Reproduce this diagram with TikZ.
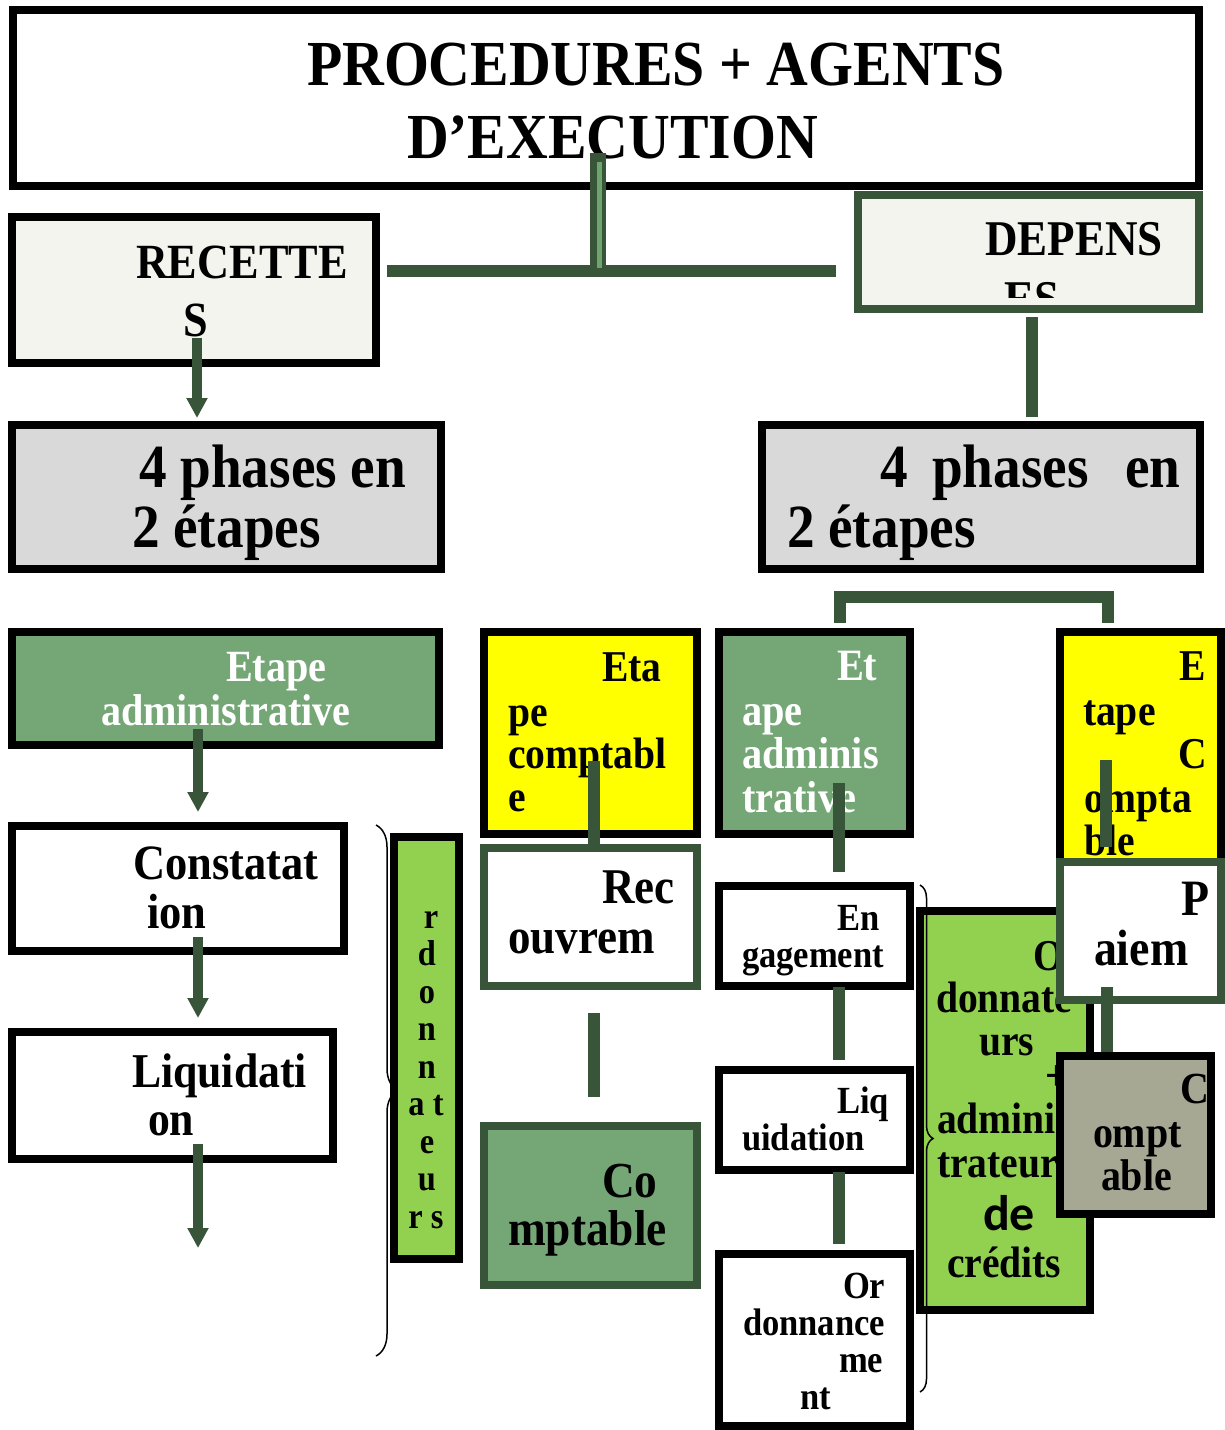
\documentclass[tikz,border=0pt]{standalone}
\usepackage{fontspec}
\newfontfamily\cf[FakeStretch=0.9]{Liberation Serif}
\newfontfamily\cbf{Carlito}
\usetikzlibrary{arrows.meta,fit,decorations.pathreplacing}
\definecolor{dkg}{RGB}{56,85,58}
\definecolor{ltg}{RGB}{110,165,110}
\definecolor{medg}{RGB}{117,167,118}
\definecolor{brg}{RGB}{146,208,80}
\definecolor{pale}{RGB}{243,244,238}
\definecolor{lgrey}{RGB}{217,217,217}
\definecolor{olive}{RGB}{166,168,148}
\definecolor{yel}{RGB}{255,255,0}
\newcommand\F[1]{\cf\bfseries\fontsize{#1pt}{#1pt}\selectfont}
\begin{document}
\begin{tikzpicture}[x=0.5pt,y=-0.5pt,
  box/.style={draw=black, line width=4pt, inner sep=0pt, outer sep=0pt},
  gbox/.style={draw=dkg, line width=4pt, inner sep=0pt, outer sep=0pt},
  txt/.style={anchor=base west, inner sep=0pt, outer sep=0pt},
  ctxt/.style={anchor=base, inner sep=0pt, outer sep=0pt},
  conn/.style={draw=dkg, line width=6.25pt},
  arr/.style={draw=dkg, line width=5pt, -{Triangle[length=10pt,width=10pt]}},
  brc/.style={draw=black, line width=0.75pt, decorate}]
\fill[white] (0,0) rectangle (1225,1430);
\useasboundingbox (0,0) rectangle (1225,1430);

% ---------- title ----------
\node[box, fill=white, fit={(13,10) (1199,186)}] (title) {};
\node[txt, font=\F{32.1}] (tt1) at (307,85) {PROCEDURES + AGENTS};
\node[txt, font=\F{32.1}] (tt2) at (407,158) {D’EXECUTION};

% top connectors
\coordinate (hL) at (387,271);
\coordinate (hR) at (836,271);
\draw[conn, line width=6pt] (hL) -- (hR);
\coordinate (vT) at (598,153);
\coordinate (vB) at (598,271);
\coordinate (vTi) at (599,162);
\coordinate (vBi) at (599,268);
\draw[draw=dkg, line width=8pt] (vT) -- (vB);
\draw[draw=ltg, line width=2.5pt] (vTi) -- (vBi);

% ---------- RECETTES ----------
\node[box, fill=pale, fit={(12,217) (376,363)}] (rec) {};
\node[txt, font=\F{24.6}] (rec1) at (136,278) {RECETTE};
\node[txt, font=\F{24.6}] (rec2) at (183,336) {S};
\coordinate (a0s) at (197,338);
\coordinate (a0e) at (197,418);
\draw[arr] (a0s) -- (a0e);

% ---------- DEPENSES ----------
\node[gbox, fill=pale, fit={(858,195) (1199,309)}] (dep) {};
\node[txt, font=\F{25}] (dep1) at (985,255) {DEPENS};
\begin{scope}
\clip (862,199) rectangle (1195,297);
\node[txt, font=\F{25}] (dep2) at (1004,315) {ES};
\end{scope}
\coordinate (d0s) at (1032,317);
\coordinate (d0e) at (1032,417);
\draw[conn] (d0s) -- (d0e);

% ---------- 4 phases ----------
\node[box, fill=lgrey, fit={(12,425) (441,569)}] (ph1) {};
\node[txt, font=\F{30.7}] (ph1a) at (139,487) {4 phases en};
\node[txt, font=\F{30.7}] (ph1b) at (132,547) {2 étapes};
\node[box, fill=lgrey, fit={(762,425) (1200,569)}] (ph2) {};
\node[txt, font=\F{30.7}] (ph2a) at (880,487) {4};
\node[txt, font=\F{30.7}] (ph2b) at (932,487) {phases};
\node[txt, font=\F{30.7}] (ph2c) at (1125,487) {en};
\node[txt, font=\F{30.7}] (ph2d) at (787,547) {2 étapes};

% bracket
\coordinate (k1) at (840,623);
\coordinate (k2) at (840,597);
\coordinate (k3) at (1108,597);
\coordinate (k4) at (1108,623);
\draw[conn] (k1) -- (k2) -- (k3) -- (k4);

% ---------- left column ----------
\node[box, fill=medg, fit={(12,632) (439,745)}] (ea1) {};
\node[txt, font=\F{22.3}, text=white] (ea1a) at (226,681) {Etape};
\node[txt, font=\F{22.3}, text=white] (ea1b) at (101,725) {administrative};
\coordinate (a1s) at (198,729);
\coordinate (a1e) at (198,812);
\draw[arr] (a1s) -- (a1e);

\node[box, fill=white, fit={(12,826) (344,951)}] (con) {};
\node[txt, font=\F{24.7}] (con1) at (133,879) {Constatat};
\node[txt, font=\F{24.7}] (con2) at (147,928) {ion};
\coordinate (a2s) at (198,937);
\coordinate (a2e) at (198,1018);
\draw[arr] (a2s) -- (a2e);

\node[box, fill=white, fit={(12,1032) (333,1159)}] (liq1) {};
\node[txt, font=\F{24.3}] (liq1a) at (132,1087) {Liquidati};
\node[txt, font=\F{24.3}] (liq1b) at (148,1135) {on};
\coordinate (a3s) at (198,1144);
\coordinate (a3e) at (198,1248);
\draw[arr] (a3s) -- (a3e);

% left brace
\coordinate (b1s) at (376,825);
\coordinate (b1e) at (376,1356);
\draw[brc, decoration={brace, amplitude=11pt}] (b1s) -- (b1e);

% ordonnateurs (left)
\node[box, fill=brg, fit={(394,837) (459,1259)}] (ord1) {};
\node[ctxt, font=\F{18}] (o1) at (431,928) {r};
\node[ctxt, font=\F{18}] (o2) at (427,965) {d};
\node[ctxt, font=\F{18}] (o3) at (427,1003) {o};
\node[ctxt, font=\F{18}] (o4) at (427,1040) {n};
\node[ctxt, font=\F{18}] (o5) at (427,1078) {n};
\node[ctxt, font=\F{18}] (o6) at (426,1115) {a t};
\node[ctxt, font=\F{18}] (o7) at (427,1153) {e};
\node[ctxt, font=\F{18}] (o8) at (427,1190) {u};
\node[ctxt, font=\F{18}] (o9) at (426,1228) {r s};

% ---------- middle column ----------
\node[box, fill=yel, fit={(484,632) (697,834)}] (ec1) {};
\node[txt, font=\F{22}] (ec1a) at (602,681) {Eta};
\node[txt, font=\F{22}] (ec1b) at (508,726) {pe};
\node[txt, font=\F{22}] (ec1c) at (508,768) {comptabl};
\node[txt, font=\F{22}] (ec1d) at (508,811) {e};
\coordinate (m1s) at (594,761);
\coordinate (m1e) at (594,845);
\draw[conn] (m1s) -- (m1e);

\node[gbox, fill=white, fit={(484,848) (697,986)}] (recv) {};
\node[txt, font=\F{25}] (recv1) at (602,903) {Rec};
\node[txt, font=\F{25}] (recv2) at (508,953) {ouvrem};
\coordinate (m2s) at (594,1013);
\coordinate (m2e) at (594,1097);
\draw[conn] (m2s) -- (m2e);

\node[gbox, fill=medg, fit={(484,1126) (697,1285)}] (cpt1) {};
\node[txt, font=\F{25.2}] (cpt1a) at (602,1197) {Co};
\node[txt, font=\F{25.2}] (cpt1b) at (508,1245) {mptable};

% ---------- right-middle column ----------
\node[box, fill=medg, fit={(719,632) (910,834)}] (ea2) {};
\node[txt, font=\F{22.4}, text=white] (ea2a) at (837,680) {Et};
\node[txt, font=\F{22.4}, text=white] (ea2b) at (742,725) {ape};
\node[txt, font=\F{22.4}, text=white] (ea2c) at (742,768) {adminis};
\node[txt, font=\F{22.4}, text=white] (ea2d) at (742,812) {trative};
\coordinate (r1s) at (839,783);
\coordinate (r1e) at (839,872);
\draw[conn] (r1s) -- (r1e);

\node[box, fill=white, fit={(719,886) (910,986)}] (eng) {};
\node[txt, font=\F{19.2}] (eng1) at (837,930) {En};
\node[txt, font=\F{19.2}] (eng2) at (742,967) {gagement};
\coordinate (r2s) at (839,987);
\coordinate (r2e) at (839,1060);
\draw[conn] (r2s) -- (r2e);

\node[box, fill=white, fit={(719,1070) (910,1170)}] (liq2) {};
\node[txt, font=\F{19.2}] (liq2a) at (837,1113) {Liq};
\node[txt, font=\F{19.2}] (liq2b) at (742,1150) {uidation};
\coordinate (r3s) at (839,1172);
\coordinate (r3e) at (839,1244);
\draw[conn] (r3s) -- (r3e);

\node[box, fill=white, fit={(719,1254) (910,1426)}] (ordo) {};
\node[txt, font=\F{19.2}] (ordo1) at (843,1298) {Or};
\node[txt, font=\F{19.2}] (ordo2) at (743,1335) {donnance};
\node[txt, font=\F{19.2}] (ordo3) at (839,1372) {me};
\node[txt, font=\F{19.2}] (ordo4) at (800,1409) {nt};

% ordonnateurs + administrateurs (right)
\node[box, fill=brg, fit={(920,911) (1090,1310)}] (ord2) {};
\node[txt, font=\F{22}] (ord2a) at (1033,970) {O};
\node[txt, font=\F{22}] (ord2b) at (936,1012) {donnate};
\node[txt, font=\F{22}] (ord2c) at (979,1055) {urs};
\node[txt, font=\F{22}] (ord2d) at (1045,1090) {+};
\node[txt, font=\F{22}] (ord2e) at (937,1133) {admini};
\node[txt, font=\F{22}] (ord2f) at (937,1177) {trateur};
\node[txt, font=\cbf\bfseries\fontsize{25pt}{25pt}\selectfont] (ord2g) at (983,1230) {de};
\node[txt, font=\F{22}] (ord2h) at (947,1277) {crédits};

% right brace
\coordinate (b2s) at (920,885);
\coordinate (b2e) at (920,1392);
\draw[brc, decoration={brace, amplitude=6.5pt}] (b2s) -- (b2e);

% ---------- right column ----------
\node[box, fill=yel, fit={(1060,632) (1221,862)}] (ec2) {};
\node[txt, font=\F{22}] (ec2a) at (1179,680) {E};
\node[txt, font=\F{22}] (ec2b) at (1083,725) {tape};
\node[txt, font=\F{22}] (ec2c) at (1178,768) {C};
\node[txt, font=\F{22}] (ec2d) at (1084,812) {ompta};
\node[txt, font=\F{22}] (ec2e) at (1084,855) {ble};
\coordinate (q1s) at (1106,760);
\coordinate (q1e) at (1106,847);
\draw[conn] (q1s) -- (q1e);

\node[gbox, fill=white, fit={(1060,862) (1221,1000)}] (pai) {};
\node[txt, font=\F{25.5}] (pai1) at (1181,915) {P};
\node[txt, font=\F{25.5}] (pai2) at (1094,965) {aiem};
\coordinate (q2s) at (1107,987);
\coordinate (q2e) at (1107,1060);
\draw[conn] (q2s) -- (q2e);

\node[box, fill=olive, fit={(1060,1056) (1211,1214)}] (cpt2) {};
\node[txt, font=\F{22.2}] (cpt2a) at (1180,1103) {C};
\node[txt, font=\F{22.2}] (cpt2b) at (1093,1147) {ompt};
\node[txt, font=\F{22.2}] (cpt2c) at (1101,1190) {able};
\end{tikzpicture}
\end{document}
